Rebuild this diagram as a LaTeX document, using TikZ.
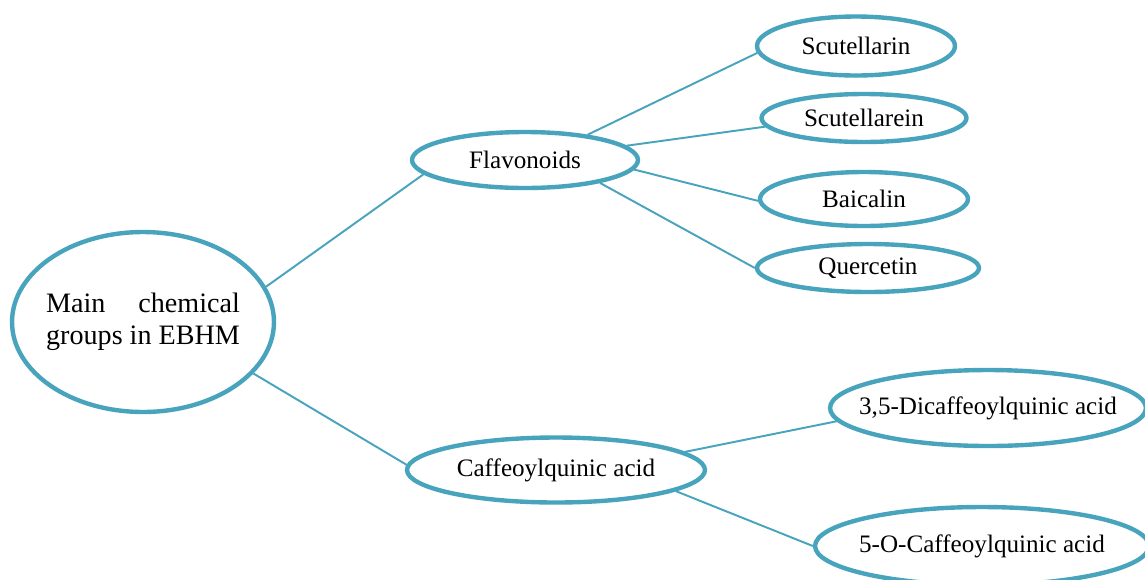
\documentclass[tikz,border=0pt]{standalone}
\usepackage{fontspec}
\setmainfont{Liberation Serif}
\usetikzlibrary{shapes.geometric}
\definecolor{groupblue}{RGB}{72,163,189}

\begin{document}
\begin{tikzpicture}[x=0.02cm,y=-0.02cm,
		blob/.style={ellipse,draw=groupblue,line width=2.5pt,fill=white,inner xsep=-1.2cm,inner ysep=-0.4cm,font=\fontsize{14.3}{17}\selectfont},
		link/.style={draw=groupblue,line width=1.1pt}]
			\useasboundingbox (0,0) rectangle (1145,579);
			\clip (0,0) rectangle (1145,579);
			% root
			\node[blob,minimum width=5.24cm,minimum height=3.6cm,font=\fontsize{16}{18}\selectfont,align=left] (main) at (143,322)
				{\setbox0\hbox{groups in EBHM}\hbox to\wd0{Main\hfill chemical}\\groups in EBHM};
			% groups
			\node[blob,minimum width=4.52cm,minimum height=1.12cm] (flav) at (525,160) {Flavonoids};
			\node[blob,minimum width=5.96cm,minimum height=1.3cm] (caff) at (556,470) {Caffeoylquinic acid};
			% compounds
			\node[blob,minimum width=3.96cm,minimum height=1.18cm] (scl) at (856,46) {Scutellarin};
			\node[blob,minimum width=4.1cm,minimum height=0.96cm] (sce) at (864,118) {Scutellarein};
			\node[blob,minimum width=4.16cm,minimum height=1.08cm] (bai) at (864,199) {Baicalin};
			\node[blob,minimum width=4.44cm,minimum height=0.96cm] (que) at (868,268) {Quercetin};
			\node[blob,minimum width=6.32cm,minimum height=1.52cm] (dica) at (988,408) {3,5-Dicaffeoylquinic acid};
			\node[blob,minimum width=6.68cm,minimum height=1.56cm] (ocaf) at (982,546) {5-O-Caffeoylquinic acid};
			% connectors
			\draw[link] (main.16) -- (flav.188);
			\draw[link] (main.-25) -- (caff.178);
			\draw[link] (flav.22) -- (scl.184);
			\draw[link] (flav.8) -- (sce.185);
			\draw[link] (flav.-5) -- (bai.181);
			\draw[link] (flav.-17) -- (que.west);
			\draw[link] (caff.8) -- (dica.185);
			\draw[link] (caff.-10) -- (ocaf.west);
		    \end{tikzpicture}
\end{document}
